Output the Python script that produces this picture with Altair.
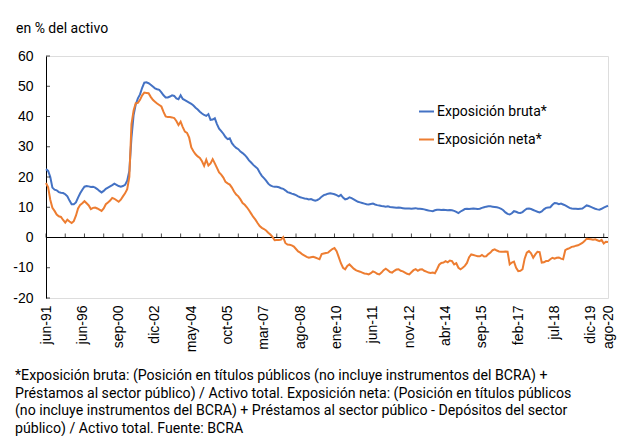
import altair as alt
import pandas as pd

# Category labels shown on the x axis (every 17th observation, plus the last one)
tick_labels = ["jun-91", "jun-96", "sep-00", "dic-02", "may-04", "oct-05", "mar-07",
               "ago-08", "ene-10", "jun-11", "nov-12", "abr-14", "sep-15", "feb-17",
               "jul-18", "dic-19", "ago-20"]
tick_index = [0, 17, 34, 51, 68, 85, 102, 119, 136, 153, 170, 187, 204, 221, 238, 255, 263]

series_names = ["Exposición bruta*", "Exposición neta*"]
series_colors = ["#4472C4", "#ED7D31"]

bruta = [
    22.6, 22.0, 20.0, 16.5, 15.8, 15.6, 15.0, 14.8, 14.7, 14.3, 13.6, 12.2, 11.0, 11.0, 11.6, 13.2,
    14.6, 15.8, 16.8, 17.0, 16.9, 16.7, 16.8, 16.5, 16.0, 15.4, 14.9, 15.4, 16.1, 16.5, 16.9, 17.3,
    17.8, 17.4, 17.0, 16.8, 17.0, 17.4, 18.8, 22.0, 33.0, 40.5, 44.0, 46.0, 47.3, 49.5, 51.2, 51.3,
    51.0, 50.5, 49.9, 49.3, 49.0, 48.8, 48.0, 47.0, 46.3, 46.3, 46.6, 47.0, 46.8, 46.0, 45.7, 47.0,
    45.8, 45.4, 45.0, 44.6, 44.2, 43.6, 42.9, 42.3, 41.6, 41.0, 40.5, 40.2, 40.8, 38.9, 39.0, 39.4,
    37.5, 36.0, 35.2, 34.3, 33.2, 32.5, 32.8, 31.2, 30.3, 29.6, 29.2, 28.4, 27.9, 27.3, 26.5, 25.5,
    24.8, 24.0, 23.4, 22.8, 21.5, 20.4, 19.6, 18.8, 17.8, 17.2, 16.9, 16.8, 16.8, 16.6, 16.3, 16.1,
    15.6, 15.0, 14.8, 14.5, 14.3, 14.0, 13.6, 13.3, 13.1, 12.9, 12.8, 12.6, 12.7, 12.4, 12.2, 12.4,
    12.8, 13.5, 14.0, 14.2, 14.5, 14.6, 14.5, 14.3, 14.0, 13.6, 14.1, 13.2, 12.6, 12.8, 13.3, 13.0,
    12.6, 12.2, 11.8, 11.6, 11.4, 11.2, 11.0, 10.9, 11.1, 11.2, 10.9, 10.7, 10.6, 10.4, 10.3, 10.2,
    10.3, 10.1, 10.0, 9.9, 9.8, 9.9, 9.8, 9.7, 9.6, 9.6, 9.6, 9.5, 9.6, 9.7, 9.5, 9.5,
    9.4, 9.3, 9.1, 8.9, 8.8, 8.7, 9.0, 9.2, 9.2, 9.1, 9.2, 9.1, 9.0, 9.1, 9.0, 8.8,
    8.5, 8.1, 8.6, 9.0, 9.4, 9.5, 9.4, 9.5, 9.6, 9.5, 9.4, 9.5, 9.8, 10.0, 10.2, 10.3,
    10.3, 10.2, 10.1, 10.0, 9.8, 9.5, 9.0, 8.3, 7.8, 7.6, 8.0, 8.7, 8.5, 8.2, 8.1, 8.4,
    9.0, 9.5, 9.6, 9.4, 9.1, 8.8, 8.5, 8.3, 8.6, 9.3, 9.8, 9.9, 10.0, 10.8, 11.4, 11.3,
    11.0, 11.2, 10.9, 10.6, 10.2, 9.8, 9.6, 9.5, 9.5, 9.4, 9.5, 9.6, 10.1, 10.6, 10.4, 10.1,
    9.8, 9.5, 9.3, 9.2, 9.5, 9.9, 10.2, 10.5,
]

neta = [
    18.0, 16.6, 12.5, 9.8, 8.8, 7.6, 7.0, 6.8, 5.8, 4.9, 5.9, 5.3, 4.8, 5.4, 7.2, 9.6,
    10.8, 11.3, 12.0, 11.3, 10.6, 9.4, 9.8, 9.9, 9.6, 9.2, 8.8, 9.6, 11.0, 11.6, 12.2, 13.1,
    12.8, 12.3, 11.8, 12.5, 13.6, 14.6, 16.0, 20.0, 37.5, 42.0, 44.4, 44.5, 45.5, 47.0, 47.9, 47.8,
    47.7, 46.5, 45.5, 44.9, 44.3, 43.8, 43.3, 41.5, 40.0, 39.8, 39.8, 39.7, 39.5, 38.5, 37.2, 38.3,
    36.5, 35.0, 34.6, 33.0, 29.8, 28.5, 27.5, 26.8, 26.3, 25.2, 23.7, 25.7, 23.8, 24.5, 25.9, 24.5,
    23.0, 21.5, 20.8, 19.8, 18.4, 17.9, 17.5, 16.5, 15.2, 14.2, 13.6, 12.6, 11.4, 10.8, 10.0, 9.0,
    7.9, 6.8, 5.9, 4.8, 3.8, 3.2, 2.8, 2.3, 1.6, 1.0, 0.2, -0.9, -0.8, -0.8, -0.7, 0.1,
    -1.8, -2.3, -2.4, -2.6, -3.0, -3.8, -4.6, -5.0, -5.6, -6.0, -6.4, -6.7, -6.5, -6.4, -6.6, -6.9,
    -7.2, -5.5, -5.3, -5.1, -5.0, -4.4, -3.8, -3.5, -4.5, -6.5, -8.5, -10.0, -10.5, -9.4, -8.9, -9.6,
    -10.3, -10.8, -11.1, -11.3, -11.6, -11.9, -12.0, -12.2, -11.8, -11.2, -11.5, -12.0, -12.2, -11.6, -10.8, -10.3,
    -10.8, -11.4, -11.6, -11.0, -10.6, -10.5, -11.0, -11.2, -11.6, -12.0, -12.2, -11.5, -10.8, -10.5, -11.0, -10.6,
    -10.5, -11.0, -11.3, -11.6, -11.7, -11.6, -11.8, -10.5, -9.0, -8.4, -8.3, -7.8, -8.2, -7.6, -7.8, -8.9,
    -8.5, -10.0, -10.5, -10.0, -9.4, -8.4, -6.5, -5.6, -5.8, -6.0, -6.2, -6.2, -5.8, -6.3, -6.2, -5.5,
    -5.0, -4.2, -3.9, -4.3, -4.6, -4.7, -4.7, -4.6, -4.7, -8.9, -8.3, -8.0, -10.0, -11.1, -11.0, -10.5,
    -7.0, -5.0, -4.5, -5.2, -6.7, -5.6, -4.7, -4.8, -8.3, -8.2, -7.8, -7.8, -7.2, -6.7, -7.0, -6.7,
    -6.6, -7.0, -7.2, -4.2, -3.8, -3.5, -3.1, -3.0, -2.7, -2.6, -2.2, -1.8, -1.2, -0.4, -0.5, -0.6,
    -0.7, -0.6, -0.9, -1.2, -0.8, -2.0, -1.4, -1.5,
]

y_ticks = [60, 50, 40, 30, 20, 10, 0, -10, -20]
x_minor_ticks = list(range(0, 264, 9))

footnote = [
    "*Exposición bruta: (Posición en títulos públicos (no incluye instrumentos del BCRA) +",
    "Préstamos al sector público) / Activo total. Exposición neta: (Posición en títulos públicos",
    "(no incluye instrumentos del BCRA) + Préstamos al sector público - Depósitos del sector",
    "público) / Activo total. Fuente: BCRA",
]

n = len(bruta)
df = pd.DataFrame({
    "i": list(range(n)) * 2,
    "valor": bruta + neta,
    "serie": [series_names[0]] * n + [series_names[1]] * len(neta),
})

label_expr = "".join(
    f"datum.value == {k} ? '{lab}' : " for k, lab in zip(tick_index, tick_labels)
) + "''"

x_scale = alt.Scale(domain=[0, n - 1], nice=False, zero=False)
y_scale = alt.Scale(domain=[-20, 60], nice=False)

lines = alt.Chart(df).mark_line(strokeWidth=2).encode(
    x=alt.X("i:Q", scale=x_scale,
            axis=alt.Axis(values=tick_index, labelExpr=label_expr, labelAngle=270,
                          labelAlign="right", labelBaseline="middle", domain=False,
                          ticks=False, grid=False, title=None, labelPadding=7,
                          labelFont="Liberation Sans", labelFontSize=14,
                          labelColor="#000000", labelOverlap=False,
                          labelFlush=False, labelBound=False)),
    y=alt.Y("valor:Q", scale=y_scale,
            axis=alt.Axis(values=y_ticks, labelExpr="'' + datum.value",
                          domain=True, domainColor="#000000",
                          ticks=False, grid=False, title=None, labelPadding=13,
                          labelFont="Liberation Sans", labelFontSize=14,
                          labelColor="#000000", labelOverlap=False,
                          labelFlush=False, labelBound=False)),
    color=alt.Color("serie:N",
                    scale=alt.Scale(domain=series_names, range=series_colors),
                    legend=alt.Legend(orient="none", legendX=372, legendY=47,
                                      title=None, symbolType="stroke", symbolSize=225,
                                      symbolStrokeWidth=2, labelFont="Roboto",
                                      labelFontSize=14, labelColor="#000000",
                                      rowPadding=12, labelOffset=2)),
)

zero_df = pd.DataFrame({"cero": [0]})
zero_line = alt.Chart(zero_df).mark_rule(color="#000000", strokeWidth=1).encode(
    y=alt.Y("cero:Q", scale=y_scale, axis=None)
)

ytick_df = pd.DataFrame({"v": y_ticks})
ytick_marks = alt.Chart(ytick_df).mark_tick(color="#000000", size=4, thickness=1,
                                            orient="horizontal").encode(
    y=alt.Y("v:Q", scale=y_scale, axis=None),
    x=alt.value(2),
)

xtick_df = pd.DataFrame({"i": x_minor_ticks, "cero": [0] * len(x_minor_ticks)})
xtick_marks = alt.Chart(xtick_df).mark_tick(color="#000000", size=4, thickness=1,
                                            orient="vertical", yOffset=-2).encode(
    x=alt.X("i:Q", scale=x_scale, axis=None),
    y=alt.Y("cero:Q", scale=y_scale, axis=None),
)

unit_text = alt.Chart(zero_df).mark_text(
    text="en % del activo", font="Roboto", fontSize=14, color="#000000",
    align="left", baseline="alphabetic"
).encode(x=alt.value(-30), y=alt.value(-23.5))

foot_text = alt.Chart(zero_df).mark_text(
    text=footnote, font="Roboto", fontSize=14.15, color="#000000",
    align="left", baseline="alphabetic", lineHeight=17.7
).encode(x=alt.value(-31), y=alt.value(324))

chart = alt.layer(
    zero_line, lines, xtick_marks, ytick_marks, unit_text, foot_text
).resolve_axis(
    x="independent", y="independent"
).properties(
    width=562, height=242,
    autosize=alt.AutoSizeParams(type="none"),
    padding={"left": 38, "top": 48, "right": 9, "bottom": 140},
).configure_view(stroke=None).configure(background="#ffffff")

chart.save("out.html", embed_options={"renderer": "svg", "actions": False})
